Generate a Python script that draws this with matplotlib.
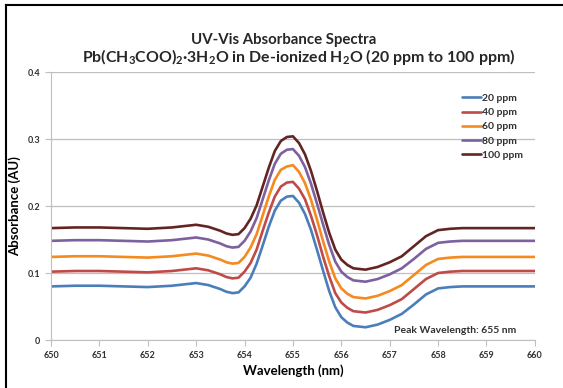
import matplotlib.pyplot as plt
from matplotlib.lines import Line2D

# wavelength grid (nm) and absorbance
wavelength = [650, 650.5, 651, 651.5, 652, 652.5, 653, 653.25, 653.5, 653.625,
              653.75, 653.875, 654, 654.125, 654.25, 654.375, 654.5, 654.625,
              654.75, 654.875, 655, 655.125, 655.25, 655.375, 655.5, 655.625,
              655.75, 655.875, 656, 656.125, 656.25, 656.5, 656.75, 657,
              657.25, 657.5, 657.75, 658, 658.25, 658.5, 659, 659.5, 660]

ppm20 = [0.080, 0.081, 0.081, 0.080, 0.079, 0.081, 0.085, 0.082, 0.076, 0.072,
         0.070, 0.071, 0.080, 0.093, 0.114, 0.141, 0.169, 0.193,
         0.208, 0.214, 0.215, 0.205, 0.188, 0.164, 0.134, 0.103,
         0.073, 0.049, 0.034, 0.026, 0.021, 0.019, 0.023, 0.030,
         0.039, 0.053, 0.068, 0.077, 0.079, 0.080, 0.080, 0.080, 0.080]
ppm40 = [0.102, 0.103, 0.103, 0.102, 0.101, 0.103, 0.107, 0.104, 0.098, 0.094,
         0.092, 0.093, 0.102, 0.115, 0.135, 0.163, 0.190, 0.214,
         0.229, 0.235, 0.236, 0.226, 0.210, 0.185, 0.156, 0.124,
         0.095, 0.070, 0.056, 0.048, 0.043, 0.041, 0.045, 0.052,
         0.061, 0.076, 0.091, 0.100, 0.102, 0.103, 0.103, 0.103, 0.103]
ppm60 = [0.124, 0.125, 0.125, 0.124, 0.123, 0.125, 0.129, 0.126, 0.120, 0.116,
         0.114, 0.115, 0.124, 0.138, 0.158, 0.186, 0.214, 0.239,
         0.254, 0.259, 0.261, 0.251, 0.234, 0.209, 0.179, 0.147,
         0.117, 0.092, 0.077, 0.069, 0.064, 0.062, 0.066, 0.073,
         0.082, 0.097, 0.112, 0.121, 0.123, 0.124, 0.124, 0.124, 0.124]
ppm80 = [0.148, 0.149, 0.149, 0.148, 0.147, 0.149, 0.153, 0.150, 0.144, 0.140,
         0.138, 0.139, 0.148, 0.162, 0.182, 0.210, 0.238, 0.263,
         0.278, 0.284, 0.285, 0.275, 0.258, 0.233, 0.203, 0.172,
         0.142, 0.117, 0.102, 0.094, 0.089, 0.087, 0.091, 0.098,
         0.107, 0.121, 0.136, 0.145, 0.147, 0.148, 0.148, 0.148, 0.148]
ppm100 = [0.167, 0.168, 0.168, 0.167, 0.166, 0.168, 0.172, 0.169, 0.163, 0.159,
          0.157, 0.158, 0.167, 0.181, 0.201, 0.229, 0.257, 0.282,
          0.297, 0.303, 0.304, 0.294, 0.277, 0.252, 0.222, 0.190,
          0.160, 0.135, 0.120, 0.112, 0.107, 0.105, 0.109, 0.116,
          0.125, 0.140, 0.155, 0.164, 0.166, 0.167, 0.167, 0.167, 0.167]

series = [ppm20, ppm40, ppm60, ppm80, ppm100]
labels = ["20 ppm", "40 ppm", "60 ppm", "80 ppm", "100 ppm"]
colors = ["#4A7EBB", "#BE4B48", "#F58A1F", "#7D60A0", "#632523"]

xticks = list(range(650, 661))
yticks = [0, 0.1, 0.2, 0.3, 0.4]

plt.rcParams['font.family'] = ['Lato', 'DejaVu Sans']
plt.rcParams['mathtext.default'] = 'regular'

fig = plt.figure(figsize=(5.63, 3.88), dpi=100)
ax = fig.add_axes([0.0906, 0.1237, 0.8594, 0.6907])

for y, lab, c in zip(series, labels, colors):
    ax.plot(wavelength, y, color=c, lw=1.9, label=lab,
            solid_capstyle='round', solid_joinstyle='round')

ax.set_xlim(650, 660)
ax.set_ylim(0, 0.4)
ax.set_xticks(xticks)
ax.set_xticklabels([str(t) for t in xticks])
ax.set_yticks(yticks)
ax.set_yticklabels(["0", "0.1", "0.2", "0.3", "0.4"])
ax.grid(axis='y', color='#BFBFBF', lw=0.9)
ax.set_axisbelow(True)
for s in ['top', 'right']:
    ax.spines[s].set_visible(False)
for s in ['left', 'bottom']:
    ax.spines[s].set_color('#BFBFBF')
ax.tick_params(axis='both', length=4, width=0.8, color='#BFBFBF',
               labelsize=6.5, pad=4)
for t in ax.get_xticklabels() + ax.get_yticklabels():
    t.set_fontweight('bold')
    t.set_color('#303030')

ax.set_xlabel("Wavelength (nm)", fontsize=9.5, fontweight='bold', labelpad=3)
ax.set_ylabel("Absorbance (AU)", fontsize=9.5, fontweight='bold')
ax.yaxis.set_label_coords(-0.062, 0.5)

fig.text(0.503, 0.897, "UV-Vis Absorbance Spectra", ha='center', va='center',
         fontsize=10.8, fontweight='bold', color='#262626')
fig.text(0.53, 0.852,
         "Pb(CH$_3$COO)$_2$·3H$_2$O in De-ionized H$_2$O (20 ppm to 100 ppm)",
         ha='center', va='center', fontsize=11.4, fontweight='bold',
         color='#262626')

ax.text(0.962, 0.037, "Peak Wavelength: 655 nm", transform=ax.transAxes,
        ha='right', va='center', fontsize=7.5, fontweight='bold',
        color='#303030')

leg = ax.legend(loc='upper left', bbox_to_anchor=(0.84, 0.935), frameon=False,
                fontsize=7.5, handlelength=1.9, handletextpad=0.1,
                labelspacing=0.48, borderaxespad=0)
for t in leg.get_texts():
    t.set_fontweight('bold')
    t.set_color('#303030')

# black border along the top and left edges of the picture
fig.add_artist(Line2D([0.0098, 0.0098], [0, 0.986], transform=fig.transFigure,
                      color='black', lw=1.5))
fig.add_artist(Line2D([0.0098, 1.0], [0.986, 0.986], transform=fig.transFigure,
                      color='black', lw=1.5))

fig.savefig("out.png", dpi=100)
